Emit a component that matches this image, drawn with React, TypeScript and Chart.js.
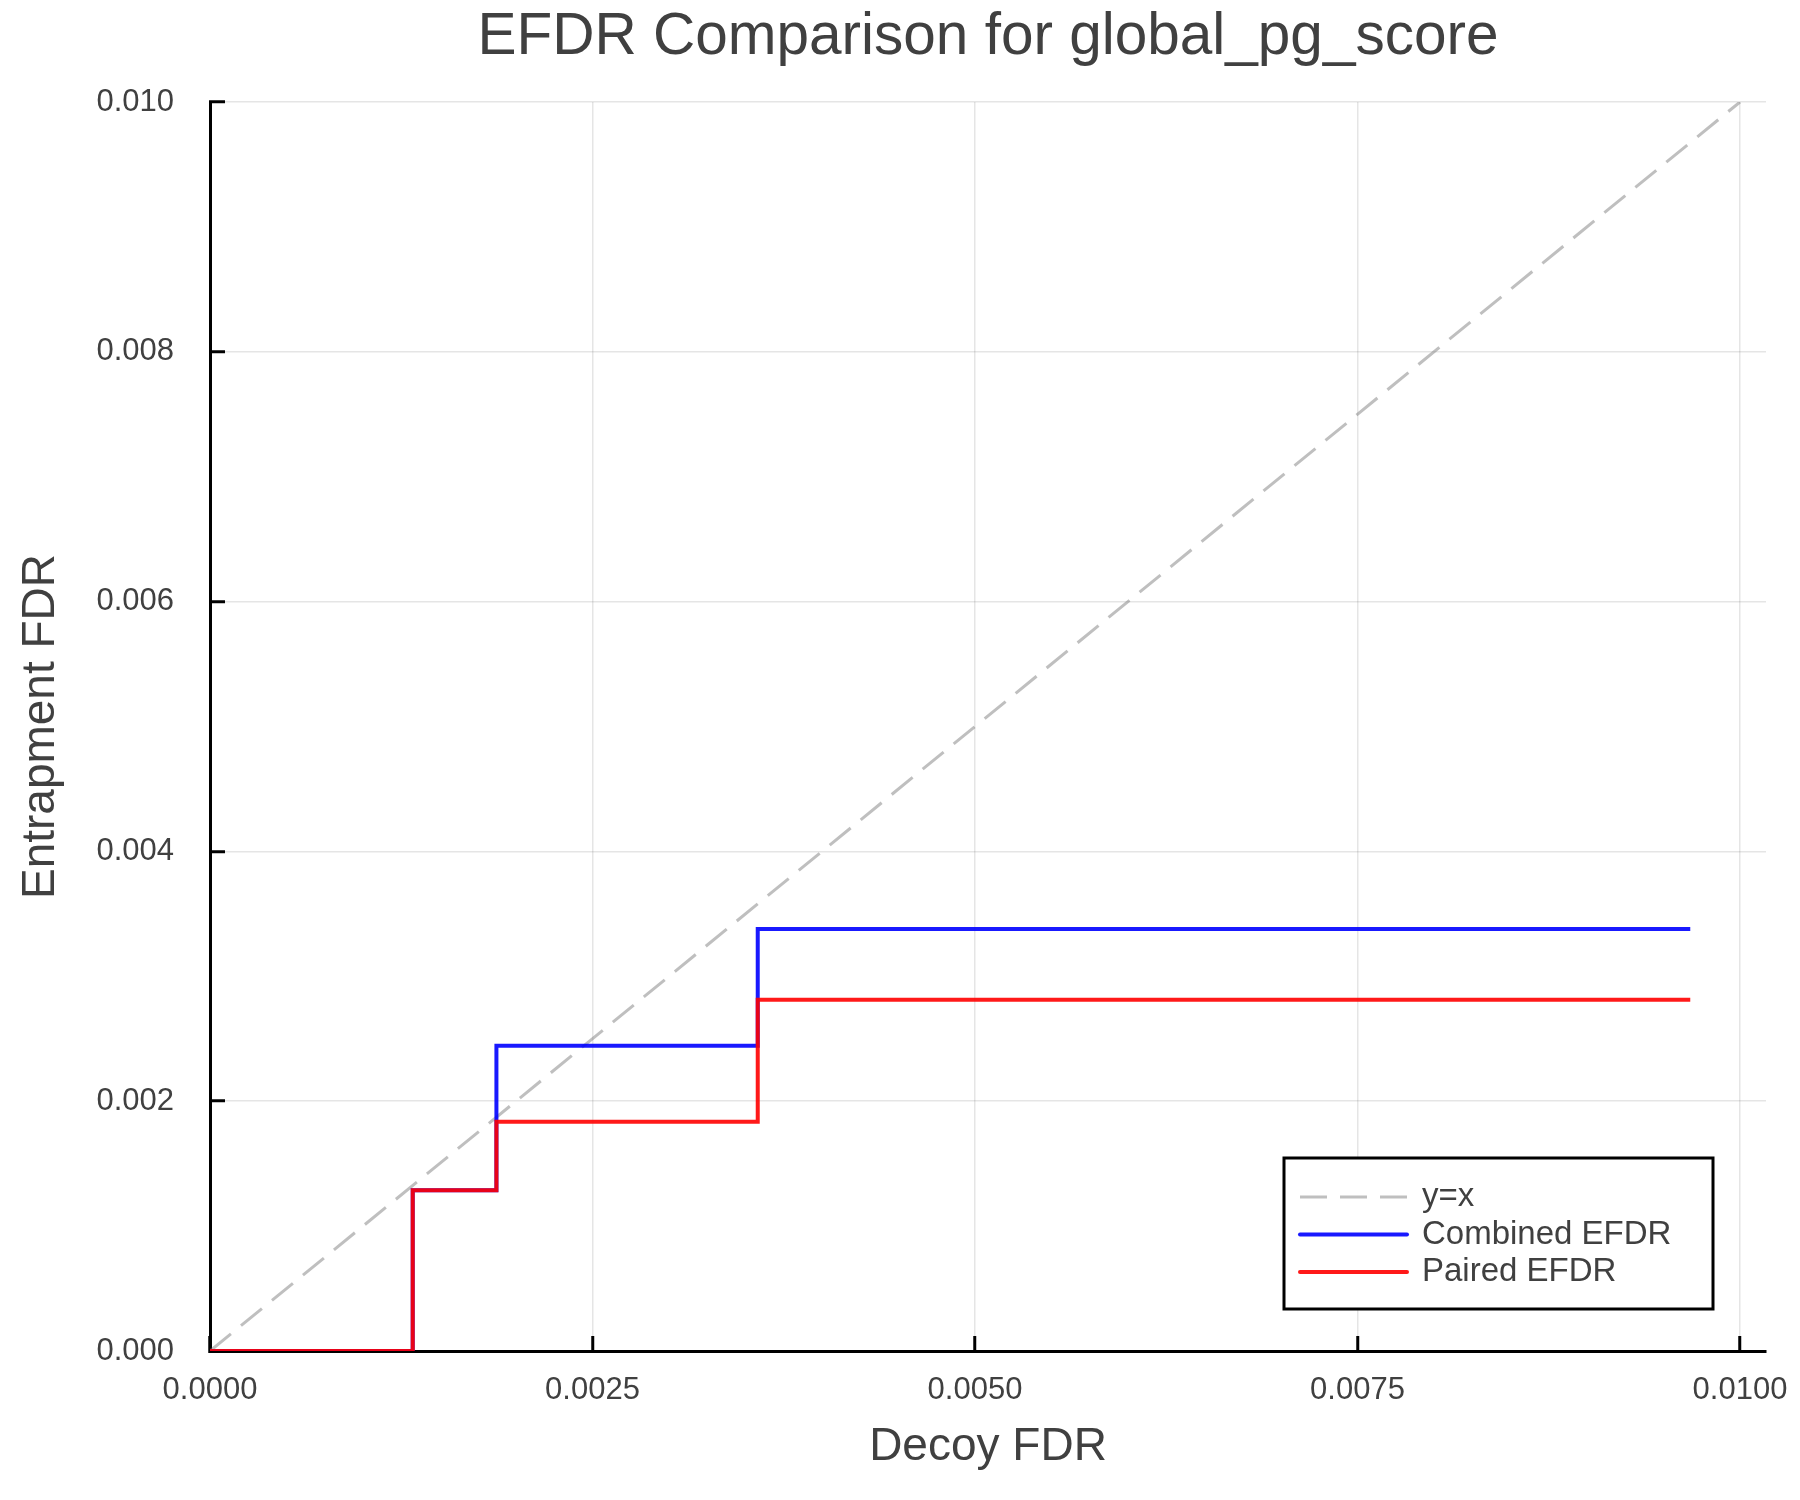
import { useEffect, useRef } from "react"
import { Chart, registerables } from "chart.js"

Chart.register(...registerables)

// step points (decoy FDR on x)
const decoyFdr = [0, 0.001325, 0.001872, 0.00358, 0.009675]
const combinedEfdr = [0, 0.001287, 0.002444, 0.003378, 0.003378]
const pairedEfdr = [0, 0.001287, 0.001836, 0.002813, 0.002813]
const diagonal = [0, 0.01]

const xTicks = [0, 0.0025, 0.005, 0.0075, 0.01]
const yTicks = [0, 0.002, 0.004, 0.006, 0.008, 0.01]

const FONT = "'Liberation Sans', Arial, Helvetica, sans-serif"
const TEXT = "#404040"

// legend drawn as a boxed panel in the lower right corner of the plot
const boxLegend = {
  id: "boxLegend",
  afterDatasetsDraw(chart: any) {
    const { ctx, chartArea } = chart
    const w = 429
    const h = 151
    const left = chartArea.right - 53 - w
    const top = chartArea.bottom - 42 - h
    ctx.save()
    ctx.fillStyle = "#fff"
    ctx.fillRect(left, top, w, h)
    ctx.strokeStyle = "#000"
    ctx.lineWidth = 3
    ctx.strokeRect(left, top, w, h)
    chart.data.datasets.forEach((ds: any, i: number) => {
      const y = top + 39 + i * 37.5
      ctx.beginPath()
      ctx.setLineDash(ds.borderDash || [])
      ctx.lineCap = ds.borderDash ? "butt" : "round"
      ctx.strokeStyle = ds.borderColor
      ctx.lineWidth = ds.borderWidth
      ctx.moveTo(left + 16, y)
      ctx.lineTo(left + 123, y)
      ctx.stroke()
      ctx.setLineDash([])
      ctx.fillStyle = TEXT
      ctx.font = `33px ${FONT}`
      ctx.textBaseline = "middle"
      ctx.textAlign = "left"
      ctx.fillText(ds.label, left + 138, y)
    })
    ctx.restore()
  },
}

export default function App() {
  const chartRef = useRef<HTMLCanvasElement>(null)
  const chartInstance = useRef<Chart | null>(null)

  useEffect(() => {
    document.body.style.margin = "0"
    if (!chartRef.current) return
    if (chartInstance.current) chartInstance.current.destroy()
    const ctx = chartRef.current.getContext("2d")
    if (!ctx) return

    chartInstance.current = new Chart(ctx, {
      type: "line",
      data: {
        datasets: [
          {
            label: "y=x",
            data: diagonal.map((v) => ({ x: v, y: v })),
            borderColor: "rgba(128, 128, 128, 0.5)",
            borderWidth: 3,
            borderDash: [27, 13],
            pointRadius: 0,
            order: 3,
          },
          {
            label: "Combined EFDR",
            data: decoyFdr.map((x, i) => ({ x, y: combinedEfdr[i] })),
            borderColor: "rgba(0, 0, 255, 0.9)",
            borderWidth: 4,
            stepped: "before",
            pointRadius: 0,
            order: 2,
          },
          {
            label: "Paired EFDR",
            data: decoyFdr.map((x, i) => ({ x, y: pairedEfdr[i] })),
            borderColor: "rgba(255, 0, 0, 0.9)",
            borderWidth: 4,
            stepped: "before",
            pointRadius: 0,
            order: 1,
          },
        ],
      },
      options: {
        animation: false,
        responsive: false,
        devicePixelRatio: 1,
        layout: { padding: { left: 0, top: 0, right: 34, bottom: 0 } },
        scales: {
          x: {
            type: "linear",
            min: 0,
            max: 0.01017,
            afterBuildTicks: (scale: any) => {
              scale.ticks = xTicks.map((value) => ({ value }))
            },
            afterFit: (scale: any) => {
              scale.height = 149
              scale.paddingLeft = 0
              scale.paddingRight = 0
            },
            grid: {
              color: "rgba(0, 0, 0, 0.1)",
              lineWidth: 1.5,
              tickColor: "#000",
              tickWidth: 3,
              tickLength: -15,
            },
            border: { display: true, color: "#000", width: 3 },
            ticks: {
              color: TEXT,
              font: { family: FONT, size: 31 },
              padding: 36,
              maxRotation: 0,
              callback: (v: any) => Number(v).toFixed(4),
            },
            title: {
              display: true,
              text: "Decoy FDR",
              color: TEXT,
              font: { family: FONT, size: 46 },
              padding: { top: 0, bottom: 25 },
            },
          },
          y: {
            type: "linear",
            min: 0,
            max: 0.01,
            afterBuildTicks: (scale: any) => {
              scale.ticks = yTicks.map((value) => ({ value }))
            },
            afterFit: (scale: any) => {
              scale.width = 210
              scale.paddingTop = 0
              scale.paddingBottom = 0
            },
            grid: {
              color: "rgba(0, 0, 0, 0.1)",
              lineWidth: 1.5,
              tickColor: "#000",
              tickWidth: 3,
              tickLength: -15,
            },
            border: { display: true, color: "#000", width: 3 },
            ticks: {
              color: TEXT,
              font: { family: FONT, size: 31 },
              padding: 51,
              callback: (v: any) => Number(v).toFixed(3),
            },
            title: {
              display: true,
              text: "Entrapment FDR",
              color: TEXT,
              font: { family: FONT, size: 46 },
              padding: { top: 14, bottom: 0 },
            },
          },
        },
        plugins: {
          legend: { display: false },
          tooltip: { enabled: false },
          title: {
            display: true,
            fullSize: false,
            text: "EFDR Comparison for global_pg_score",
            color: TEXT,
            font: { family: FONT, size: 58.5, weight: "normal" },
            padding: { top: 3, bottom: 28.8 },
          },
        },
      },
      plugins: [boxLegend],
    })

    return () => {
      if (chartInstance.current) {
        chartInstance.current.destroy()
        chartInstance.current = null
      }
    }
  }, [])

  return (
    <div style={{ width: 1800, height: 1500, background: "#fff" }}>
      <canvas ref={chartRef} width={1800} height={1500}></canvas>
    </div>
  )
}
